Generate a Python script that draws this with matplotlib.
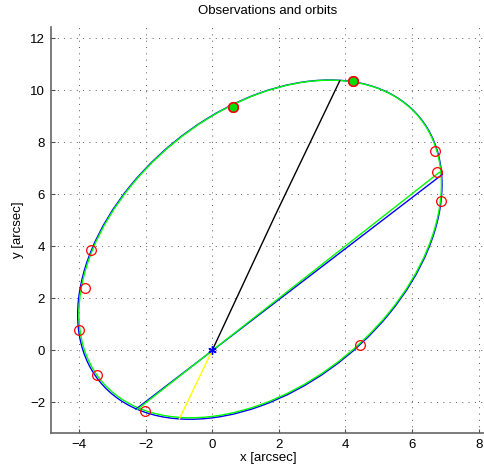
import matplotlib
matplotlib.use("Agg")
import matplotlib.pyplot as plt
from matplotlib.patches import Ellipse

plt.rcParams['font.family'] = ['Liberation Sans', 'DejaVu Sans']

# Apparent orbits (center x, center y, full width, full height, angle deg)
orbit_blue = (1.43, 3.875, 14.33, 9.20, 57.4)
orbit_green = (1.44, 3.90, 14.26, 9.15, 57.4)

# Line of nodes (endpoints on the orbit, through the star)
nodes_blue_x = [-2.29, 6.91]
nodes_blue_y = [-2.26, 6.77]
nodes_green_x = [-2.25, 6.82]
nodes_green_y = [-2.27, 6.85]

# Black curve from the star to the orbit
black_x = [0.0, 1.9, 3.83]
black_y = [0.0, 5.22, 10.37]

# Yellow line from the star
yellow_x = [0.0, -0.99]
yellow_y = [0.0, -2.64]

# Observations
obs_x = [0.61, 4.23, 6.70, 6.74, 6.87, -3.64, -3.81, -4.00, -3.45, -2.01, 4.43]
obs_y = [9.37, 10.37, 7.67, 6.87, 5.74, 3.85, 2.38, 0.78, -0.95, -2.33, 0.20]
hl_x = [0.61, 4.23]
hl_y = [9.37, 10.37]

star_x = [0.0]
star_y = [0.0]

xticks = [-4, -2, 0, 2, 4, 6, 8]
yticks = [-2, 0, 2, 4, 6, 8, 10, 12]

fig = plt.figure(figsize=(4.85, 4.72), dpi=100)
ax = fig.add_axes([0.1045, 0.082, 0.8955, 0.8614])

for (cx, cy, w, h, ang), col in [(orbit_blue, 'blue'), (orbit_green, '#00ff00')]:
    ax.add_patch(Ellipse((cx, cy), w, h, angle=ang, fill=False,
                         edgecolor=col, lw=1.0, zorder=3))

ax.plot(nodes_blue_x, nodes_blue_y, color='blue', lw=1.0, zorder=3)
ax.plot(nodes_green_x, nodes_green_y, color='#00ff00', lw=1.0, zorder=3)
ax.plot(black_x, black_y, color='black', lw=1.0, zorder=4)
ax.plot(yellow_x, yellow_y, color='yellow', lw=1.0, zorder=4)

ax.plot(hl_x, hl_y, 'o', ms=7, mfc='#00dd00', mec='#cc0033', mew=1.0, zorder=5)
ax.plot(obs_x, obs_y, 'o', ms=7, mfc='none', mec='red', mew=0.9, zorder=6)
ax.plot(star_x, star_y, marker=(6, 2, 0), ms=6, color='blue', mew=1.0,
        linestyle='none', zorder=7)

ax.set_xlim(-4.85, 8.19)
ax.set_ylim(-3.19, 12.45)
ax.set_xticks(xticks)
ax.set_yticks(yticks)
ax.grid(True, color='0.35', linestyle=(0, (1, 5.5)), lw=0.7)
ax.set_axisbelow(True)
for s in ['top', 'right']:
    ax.spines[s].set_visible(False)
for s in ['left', 'bottom']:
    ax.spines[s].set_color('0.4')
    ax.spines[s].set_linewidth(1.2)
ax.tick_params(direction='in', length=3, width=0.8, color='0.3',
               labelsize=9.5, pad=4)

ax.set_title('Observations and orbits', fontsize=9.5, pad=9)
ax.set_xlabel('x [arcsec]', fontsize=9.5, labelpad=1)
ax.set_ylabel('y [arcsec]', fontsize=9.5, labelpad=4)

fig.savefig('out.png', dpi=100)
